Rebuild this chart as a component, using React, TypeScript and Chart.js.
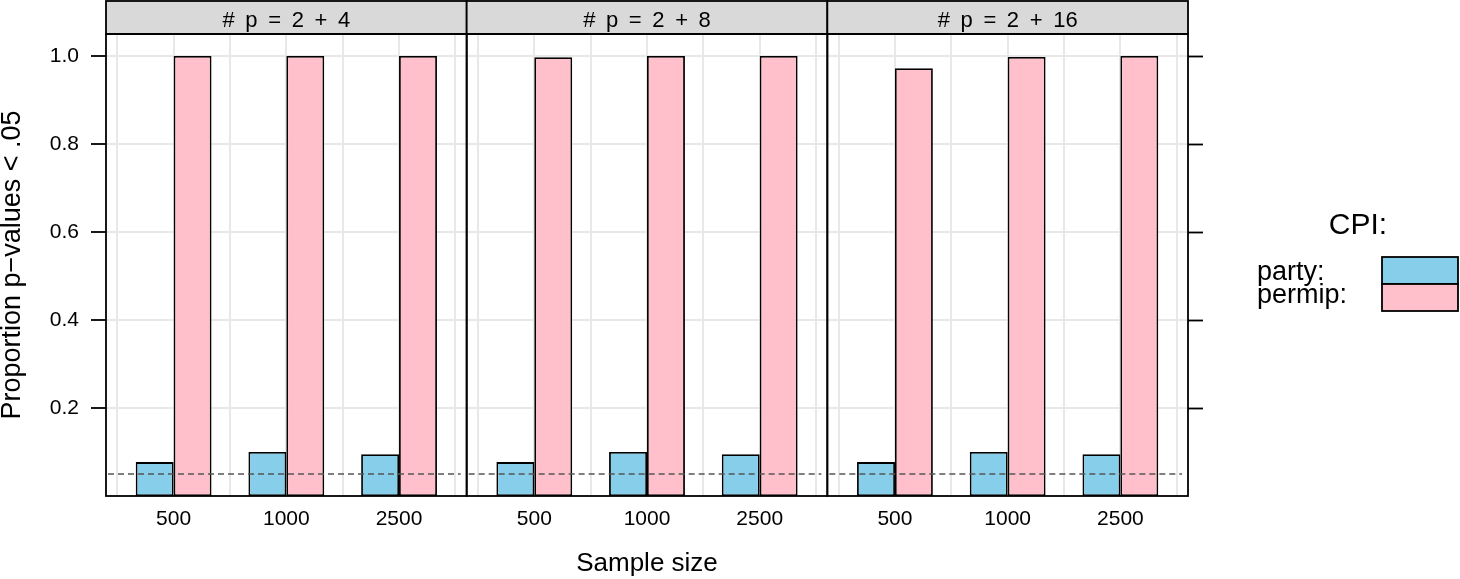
import React, { useEffect, useRef } from 'react';
import { Chart, registerables } from 'chart.js';

Chart.register(...registerables);

// ---- data ----
const categories = ['500', '1000', '2500'];
const panelTitles = ['# p = 2 + 4', '# p = 2 + 8', '# p = 2 + 16'];
const partyP4 = [0.077, 0.1, 0.095];
const partyP8 = [0.077, 0.1, 0.095];
const partyP16 = [0.077, 0.1, 0.095];
const permipP4 = [1.0, 1.0, 1.0];
const permipP8 = [0.997, 1.0, 1.0];
const permipP16 = [0.972, 0.998, 1.0];
const yTickValues = [0.2, 0.4, 0.6, 0.8, 1.0];
const refLineValue = 0.05;
const seriesNames = ['party', 'permip'];
const legendTitle = 'CPI:';
const xTitle = 'Sample size';
const yTitle = 'Proportion p\u2212values < .05';

const partyByPanel = [partyP4, partyP8, partyP16];
const permipByPanel = [permipP4, permipP8, permipP16];

// ---- layout helpers (x units) ----
const PANEL_SPAN = 3.2;
const PANEL_LO = 0.4;
const PANEL_HI = 3.6;
const xPos = (p: number, c: number) => p * PANEL_SPAN + c + 1;
const FONT = '"Liberation Sans", Arial, Helvetica, sans-serif';
const COLORS = ['#87CEEB', '#FFC0CB'];

const catPositions: number[] = [];
const gridPositions: number[] = [];
panelTitles.forEach((_, p) => {
  categories.forEach((_, c) => catPositions.push(xPos(p, c)));
  for (let k = 0.5; k <= 3.5001; k += 0.5) gridPositions.push(p * PANEL_SPAN + k);
});

const makeData = (byPanel: number[][]) =>
  panelTitles.flatMap((_, p) => categories.map((_, c) => ({ x: xPos(p, c), y: byPanel[p][c] })));

const panelPlugin = {
  id: 'latticePanels',
  afterDatasetsDraw(chart: any) {
    const { ctx, chartArea: a, scales } = chart;
    const xs = scales.x;
    const ys = scales.y;
    const yy = ys.getPixelForValue(refLineValue);
    const stripH = 33;
    panelTitles.forEach((t, p) => {
      const l = xs.getPixelForValue(p * PANEL_SPAN + PANEL_LO);
      const r = xs.getPixelForValue(p * PANEL_SPAN + PANEL_HI);
      // reference line in panel
      ctx.save();
      ctx.setLineDash([6, 4]);
      ctx.strokeStyle = '#555555';
      ctx.lineWidth = 1.5;
      ctx.beginPath();
      ctx.moveTo(l + 2, yy);
      ctx.lineTo(r - 6, yy);
      ctx.stroke();
      ctx.restore();

      ctx.save();
      ctx.fillStyle = '#d9d9d9';
      ctx.fillRect(l, a.top - stripH, r - l, stripH);
      ctx.strokeStyle = '#000';
      ctx.lineWidth = 1.8;
      ctx.strokeRect(l, a.top - stripH, r - l, stripH);
      ctx.strokeRect(l, a.top, r - l, a.bottom - a.top);
      ctx.fillStyle = '#000';
      ctx.font = `22px ${FONT}`;
      ctx.textAlign = 'center';
      ctx.textBaseline = 'alphabetic';
      try { (ctx as any).wordSpacing = '4.5px'; } catch (e) { /* ignore */ }
      ctx.fillText(t, (l + r) / 2, a.top - 7);
      ctx.restore();
    });
  },
  afterDraw(chart: any) {
    const { ctx, chartArea: a } = chart;
    const base = a.right;
    ctx.save();
    ctx.fillStyle = '#000';
    ctx.font = `30px ${FONT}`;
    ctx.textAlign = 'center';
    ctx.textBaseline = 'alphabetic';
    ctx.fillText(legendTitle, base + 170, 234);
    ctx.font = `27px ${FONT}`;
    ctx.textAlign = 'left';
    const boxL = base + 194;
    const boxW = 76;
    const boxH = 27;
    seriesNames.forEach((name, i) => {
      ctx.fillStyle = '#000';
      ctx.fillText(name + ':', base + 69, 280 + i * 23);
      const top = 257 + i * boxH;
      ctx.fillStyle = COLORS[i];
      ctx.fillRect(boxL, top, boxW, boxH);
      ctx.strokeStyle = '#000';
      ctx.lineWidth = 1.8;
      ctx.strokeRect(boxL, top, boxW, boxH);
    });
    ctx.restore();
  },
};

export default function App() {
  const ref = useRef<HTMLCanvasElement>(null);
  useEffect(() => {
    Chart.defaults.font.family = FONT;
    Chart.defaults.color = '#000';
    const xMin = PANEL_LO;
    const xMax = (panelTitles.length - 1) * PANEL_SPAN + PANEL_HI;
    const chart = new Chart(ref.current as HTMLCanvasElement, {
      type: 'bar',
      data: {
        datasets: [
          {
            label: seriesNames[0],
            data: makeData(partyByPanel) as any,
            backgroundColor: COLORS[0],
            borderColor: '#000',
            borderWidth: 1.8,
            borderSkipped: false,
            xAxisID: 'x',
            yAxisID: 'y',
          },
          {
            label: seriesNames[1],
            data: makeData(permipByPanel) as any,
            backgroundColor: COLORS[1],
            borderColor: '#000',
            borderWidth: 1.8,
            borderSkipped: false,
            xAxisID: 'x',
            yAxisID: 'y',
          },
        ],
      },
      options: {
        responsive: false,
        animation: false,
        devicePixelRatio: 1,
        categoryPercentage: 0.6726,
        barPercentage: 1,
        layout: { padding: { top: 34, left: 0, right: 0, bottom: 0 } },
        plugins: { legend: { display: false }, tooltip: { enabled: false } },
        scales: {
          x: {
            type: 'linear',
            position: 'bottom',
            offset: false,
            min: xMin,
            max: xMax,
            afterBuildTicks: (s: any) => { s.ticks = catPositions.map((v) => ({ value: v })); },
            afterFit: (s: any) => { s.height = 83; },
            grid: { display: false, drawTicks: false },
            border: { display: false },
            ticks: {
              autoSkip: false,
              maxRotation: 0,
              padding: 11,
              font: { size: 21 },
              color: '#000',
              callback: (_v: any, i: number) => categories[i % categories.length],
            },
            title: { display: true, text: xTitle, font: { size: 26 }, color: '#000', padding: 0 },
          },
          xg: {
            type: 'linear',
            position: 'bottom',
            offset: false,
            min: xMin,
            max: xMax,
            afterBuildTicks: (s: any) => { s.ticks = gridPositions.map((v) => ({ value: v })); },
            afterFit: (s: any) => { s.height = 0; },
            grid: { color: '#e8e8e8', lineWidth: 2, drawTicks: false, offset: false },
            border: { display: false },
            ticks: { display: false },
          },
          y: {
            type: 'linear',
            position: 'left',
            min: 0,
            max: 1.05,
            afterBuildTicks: (s: any) => { s.ticks = yTickValues.map((v) => ({ value: v })); },
            afterFit: (s: any) => { s.width = 106; },
            grid: { color: '#e8e8e8', lineWidth: 2, tickColor: '#000', tickLength: 15, tickWidth: 1.8 },
            border: { display: false },
            ticks: {
              padding: 12,
              font: { size: 21 },
              color: '#000',
              callback: (v: any) => Number(v).toFixed(1),
            },
            title: { display: true, text: yTitle, font: { size: 27, lineHeight: 0.9 }, color: '#000', padding: 0 },
          },
          y2: {
            type: 'linear',
            position: 'right',
            min: 0,
            max: 1.05,
            afterBuildTicks: (s: any) => { s.ticks = yTickValues.map((v) => ({ value: v })); },
            afterFit: (s: any) => { s.width = 272; },
            grid: { drawOnChartArea: false, tickColor: '#000', tickLength: 15, tickWidth: 1.8 },
            border: { display: false },
            ticks: { callback: () => '', padding: 0 },
          },
        } as any,
      },
      plugins: [panelPlugin],
    });
    return () => chart.destroy();
  }, []);
  return (
    <div style={{ position: 'fixed', left: 0, top: 0, width: 1460, height: 579, background: '#fff' }}>
      <canvas ref={ref} width={1460} height={579} style={{ display: 'block' }} />
    </div>
  );
}
